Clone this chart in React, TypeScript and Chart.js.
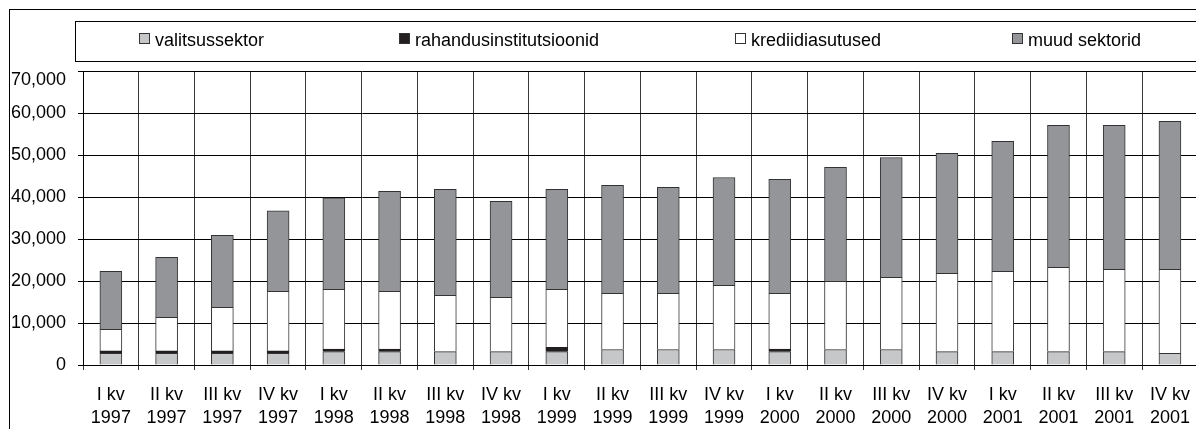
import React, { useEffect, useRef } from 'react';
import { Chart, registerables } from 'chart.js';

Chart.register(...registerables);

const quarterLabels = ['I kv', 'II kv', 'III kv', 'IV kv', 'I kv', 'II kv', 'III kv', 'IV kv', 'I kv', 'II kv', 'III kv', 'IV kv', 'I kv', 'II kv', 'III kv', 'IV kv', 'I kv', 'II kv', 'III kv', 'IV kv'];
const yearLabels = ['1997', '1997', '1997', '1997', '1998', '1998', '1998', '1998', '1999', '1999', '1999', '1999', '2000', '2000', '2000', '2000', '2001', '2001', '2001', '2001'];

const valitsussektor = [2800, 2800, 2800, 2800, 3200, 3200, 3200, 3200, 3200, 3700, 3700, 3700, 3200, 3700, 3700, 3200, 3200, 3200, 3200, 2800];
const rahandusinstitutsioonid = [550, 550, 550, 550, 600, 600, 0, 0, 1000, 0, 0, 0, 600, 0, 0, 0, 0, 0, 0, 0];
const krediidiasutused = [5150, 8000, 10400, 14200, 14200, 13750, 13400, 12900, 13800, 13350, 13350, 15250, 13250, 16200, 17150, 18600, 19100, 20050, 19600, 20000];
const muudSektorid = [13800, 14300, 17150, 19150, 21800, 23800, 25250, 22850, 23800, 25700, 25250, 25700, 27150, 27150, 28550, 28600, 30950, 33800, 34250, 35200];

const seriesNames = ['valitsussektor', 'rahandusinstitutsioonid', 'krediidiasutused', 'muud sektorid'];
const yMax = 70000;
const yStep = 10000;

const FONT = '"Liberation Sans", Arial, sans-serif';
const legendX = [131, 391, 727, 1004];

const boxLegend = {
  id: 'boxLegend',
  afterDraw(chart: any) {
    const ctx = chart.ctx;
    ctx.save();
    ctx.strokeStyle = '#000';
    ctx.lineWidth = 1;
    ctx.strokeRect(1.5, 1.5, chart.width + 20, chart.height + 20);
    ctx.strokeRect(67.5, 13.5, 1127, 40);
    chart.data.datasets.forEach((ds: any, i: number) => {
      const x = legendX[i];
      ctx.fillStyle = ds.backgroundColor;
      ctx.fillRect(x, 25, 11, 11);
      ctx.strokeStyle = '#333';
      ctx.strokeRect(x + 0.5, 25.5, 10, 10);
      ctx.fillStyle = '#000';
      ctx.font = '18px ' + FONT;
      ctx.textBaseline = 'alphabetic';
      ctx.textAlign = 'left';
      ctx.fillText(ds.label, x + 16, 38);
    });
    ctx.restore();
  },
};

export default function App() {
  const ref = useRef<HTMLCanvasElement | null>(null);

  useEffect(() => {
    document.body.style.overflow = 'hidden';
    document.documentElement.style.overflow = 'hidden';
    const canvas = ref.current;
    if (!canvas) return;
    const labels = quarterLabels.map((q, i) => [q, yearLabels[i]]);
    const common = { borderWidth: 1, barThickness: 22, stack: 's' };
    const chart = new Chart(canvas, {
      type: 'bar',
      data: {
        labels,
        datasets: [
          { label: seriesNames[0], data: valitsussektor, backgroundColor: '#C6C7C9', borderColor: '#333333', ...common },
          { label: seriesNames[1], data: rahandusinstitutsioonid, backgroundColor: '#231F20', borderColor: '#231F20', ...common },
          { label: seriesNames[2], data: krediidiasutused, backgroundColor: '#FFFFFF', borderColor: '#333333', ...common },
          { label: seriesNames[3], data: muudSektorid, backgroundColor: '#939598', borderColor: '#333333', ...common },
        ],
      },
      options: {
        animation: false,
        responsive: false,
        layout: { padding: { top: 63, left: 0, right: 1, bottom: 0 } },
        plugins: { legend: { display: false }, tooltip: { enabled: false } },
        scales: {
          x: {
            stacked: true,
            offset: true,
            grid: { offset: true, color: '#3a3a3a', lineWidth: 1, tickLength: 5, drawOnChartArea: true },
            border: { color: '#000000', width: 1 },
            ticks: {
              color: '#000',
              font: { family: FONT, size: 18, lineHeight: 1.25 },
              padding: 14,
              maxRotation: 0,
              autoSkip: false,
            },
            afterFit(scale: any) { scale.height = 64; },
          },
          y: {
            stacked: true,
            min: 0,
            max: yMax,
            grid: { color: '#000000', lineWidth: 1, tickLength: 5 },
            border: { color: '#000000', width: 1 },
            ticks: {
              stepSize: yStep,
              color: '#000',
              padding: 12,
              font: { family: FONT, size: 18, lineHeight: 1.05 },
              callback: (v: any) => {
                const s = Number(v).toLocaleString('en-US');
                return Number(v) === yMax ? ['', s] : s;
              },
            },
            afterFit(scale: any) { scale.width = 75; },
          },
        },
      },
      plugins: [boxLegend],
    });
    return () => chart.destroy();
  }, []);

  return <canvas ref={ref} width={1196} height={421} style={{ display: 'block' }} />;
}
